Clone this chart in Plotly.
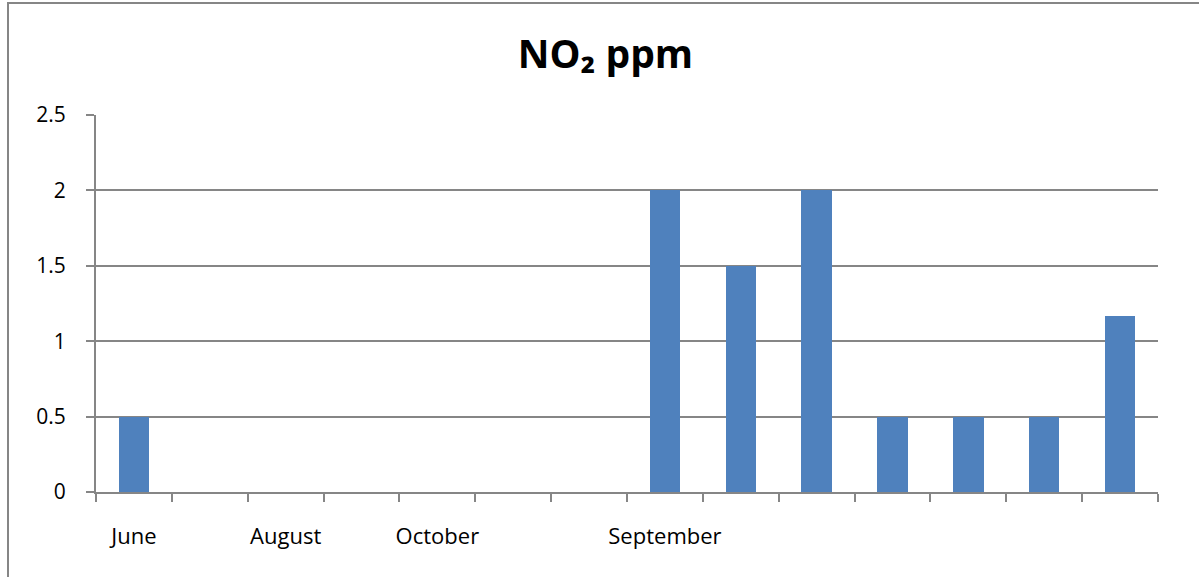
import plotly.graph_objects as go

categories = list(range(14))
values = [0.5, 0, 0, 0, 0, 0, 0, 2, 1.5, 2, 0.5, 0.5, 0.5, 1.17]
label_positions = [0, 2, 4, 7]
label_texts = ["June", "August", "October", "September"]
y_ticks = [0, 0.5, 1, 1.5, 2, 2.5]
y_tick_text = ["0", "0.5", "1", "1.5", "2", "2.5"]

GRID = "#868686"
FONT = "'Open Sans', 'Noto Sans', sans-serif"

fig = go.Figure()
fig.add_trace(go.Bar(
    x=categories, y=values, width=0.4,
    marker=dict(color="#4F81BD", line=dict(width=0)),
    showlegend=False,
))

fig.update_layout(
    width=1199, height=577,
    margin=dict(l=96, r=41, t=115, b=85),
    paper_bgcolor="white", plot_bgcolor="white",
    title=dict(text="<b>NO₂ ppm</b>", x=0.505, xanchor="center", y=0.905, yanchor="middle",
               font=dict(family=FONT, size=39, color="black")),
    font=dict(family=FONT, size=21, color="black"),
    bargap=0,
)
fig.update_xaxes(
    range=[-0.5, 13.5], tickmode="array", tickvals=label_positions, ticktext=label_texts,
    ticks="", ticklen=0, showgrid=False, zeroline=False,
    showline=True, linecolor=GRID, linewidth=2,
    ticklabelstandoff=24,
    minor=dict(tickmode="array", tickvals=[i - 0.5 for i in range(15)], ticks="outside",
               ticklen=8, tickcolor=GRID, tickwidth=2, showgrid=False),
    tickfont=dict(family=FONT, size=22, color="black"),
)
fig.update_yaxes(
    range=[0, 2.5], tickmode="array", tickvals=y_ticks, ticktext=y_tick_text,
    ticks="outside", ticklen=8, tickcolor=GRID, tickwidth=2,
    showgrid=True, gridcolor=GRID, gridwidth=1.5,
    zeroline=False, showline=True, linecolor=GRID, linewidth=2,
    ticklabelstandoff=16,
    tickfont=dict(family=FONT, size=21, color="black"),
)
# outer chart frame (left and top visible)
fig.add_shape(type="rect", xref="paper", yref="paper",
              x0=(8 - 96) / 1062, x1=1.2, y0=-0.5, y1=(492 - 3) / 377,
              line=dict(color="#868686", width=2), fillcolor="rgba(0,0,0,0)", layer="below")

fig.write_html("out.html", config={"displayModeBar": False},
               post_script="document.body.style.margin='0';document.body.style.overflow='hidden';")
